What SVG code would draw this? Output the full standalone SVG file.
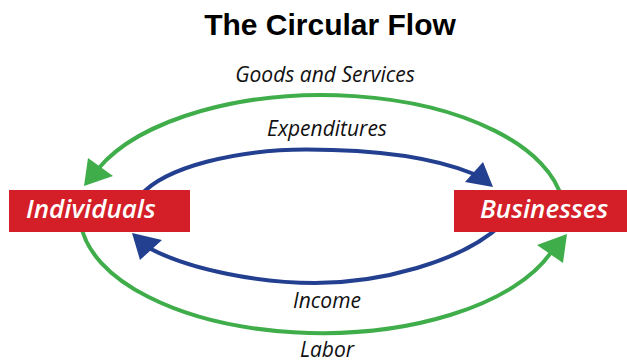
<svg xmlns="http://www.w3.org/2000/svg" width="627" height="363" viewBox="0 0 627 363">
<style>
.bg{fill:#ffffff}
.g{fill:none;stroke:#3fad4a;stroke-width:4}
.b{fill:none;stroke:#233f8f;stroke-width:4}
.ga{fill:#3fad4a}
.ba{fill:#233f8f}
.box{fill:#d41f28}
.title{font-family:"Liberation Sans",Arial,sans-serif;font-weight:bold;font-size:30px;fill:#000;text-anchor:middle}
.lbl{font-family:"Open Sans","Noto Sans",sans-serif;font-style:italic;font-size:21px;fill:#111;text-anchor:middle}
.nl{font-family:"Open Sans","Noto Sans",sans-serif;font-style:italic;font-weight:600;font-size:26px;fill:#fff}
</style>
<rect class="bg" x="0" y="0" width="627" height="363"/>
<text class="title" x="330" y="35">The Circular Flow</text>
<g id="connectors">
  <path class="g" d="M562.3,200 A242,119 0 0 0 98,169"/>
  <polygon class="ga" points="88,158 113,176 84,186"/>
  <path class="g" d="M81,225 A242,119 0 0 0 551,252.5"/>
  <polygon class="ga" points="537,245 563,263 567,234"/>
  <path class="b" d="M140,196 C165,166 240,149.5 306,149.5 C370,149.5 430,156 474,174"/>
  <polygon class="ba" points="483,162 465,182 493,187"/>
  <path class="b" d="M500,226 C460,262 380,283 315,283 C260,283 190,270 149,248"/>
  <polygon class="ba" points="162,240 140,260 132,233"/>
  <text class="lbl" x="325" y="82">Goods and Services</text>
  <text class="lbl" x="327" y="136">Expenditures</text>
  <text class="lbl" x="327" y="308">Income</text>
  <text class="lbl" x="327" y="357">Labor</text>
</g>
<g id="individuals">
  <rect class="box" x="9" y="190" width="181" height="42"/>
  <text class="nl" x="26" y="218">Individuals</text>
</g>
<g id="businesses">
  <rect class="box" x="454" y="190" width="173" height="42"/>
  <text class="nl" x="480" y="218">Businesses</text>
</g>
</svg>
